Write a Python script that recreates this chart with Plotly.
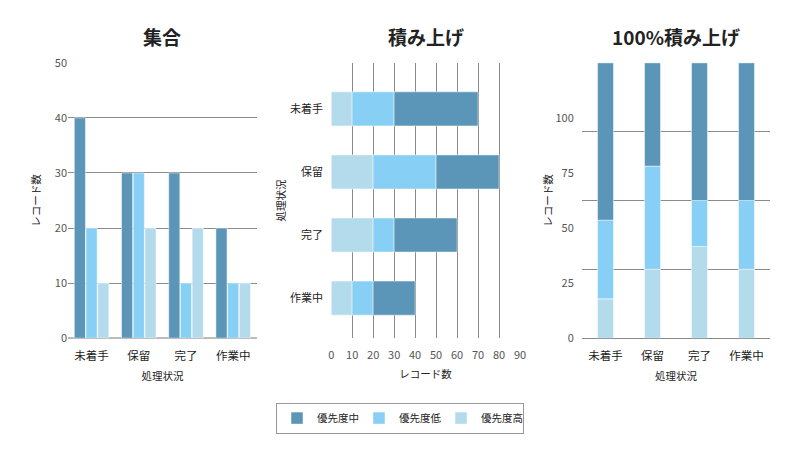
import plotly.graph_objects as go

categories = ["未着手", "保留", "完了", "作業中"]
series_names = ["優先度中", "優先度低", "優先度高"]
mid_vals = [40, 30, 30, 20]
low_vals = [20, 30, 10, 10]
high_vals = [10, 20, 20, 10]
colors = {"優先度中": "#5b95b7", "優先度低": "#88cff5", "優先度高": "#b4dbeb"}
titles = ["集合", "積み上げ", "100%積み上げ"]
pct_tick_vals = [0, 25, 50, 75, 100]

values = {"優先度中": mid_vals, "優先度低": low_vals, "優先度高": high_vals}
totals = [sum(t) for t in zip(mid_vals, low_vals, high_vals)]

FONT = "Noto Sans CJK JP, Noto Sans, sans-serif"
GRID = "#8a8a8a"
line = dict(width=0.7, color="rgba(255,255,255,0.7)")

fig = go.Figure()

# 1) grouped
for name in series_names:
    fig.add_trace(go.Bar(
        x=categories, y=values[name], name=name, marker=dict(color=colors[name], line=line),
        offsetgroup=name, legendgroup=name, xaxis="x", yaxis="y"))

# 2) stacked horizontal (高 -> 低 -> 中)
stack_order = ["優先度高", "優先度低", "優先度中"]
base = [0] * len(categories)
for name in stack_order:
    fig.add_trace(go.Bar(
        y=categories, x=values[name], base=base[:], orientation="h", name=name,
        marker=dict(color=colors[name], line=line), offsetgroup="stack_h", width=0.54,
        legendgroup=name, showlegend=False, xaxis="x2", yaxis="y2"))
    base = [b + v for b, v in zip(base, values[name])]

# 3) 100% stacked
base = [0] * len(categories)
for name in stack_order:
    pct = [v / t * 100 for v, t in zip(values[name], totals)]
    fig.add_trace(go.Bar(
        x=categories, y=pct, base=base[:], name=name,
        marker=dict(color=colors[name], line=line), offsetgroup="stack_p", width=0.34,
        legendgroup=name, showlegend=False, xaxis="x3", yaxis="y3"))
    base = [b + p for b, p in zip(base, pct)]

ydom = [0.268, 0.864]
tickfont = dict(family=FONT, size=11, color="#555")
catfont = dict(family=FONT, size=11.5, color="#222")
titlefont = dict(family=FONT, size=10.5, color="#222")
hidden_ticks = dict(ticks="outside", tickcolor="rgba(0,0,0,0)")

fig.update_layout(
    width=800, height=462,
    margin=dict(l=0, r=0, t=0, b=0),
    paper_bgcolor="white", plot_bgcolor="white",
    font=dict(family=FONT),
    barmode="group", bargap=0.255, bargroupgap=0.05,
    xaxis=dict(domain=[0.085, 0.321], anchor="y", tickfont=catfont, showline=False, automargin=False,
               ticklen=7, **hidden_ticks,
               title=dict(text="処理状況", font=titlefont, standoff=10), showgrid=False),
    yaxis=dict(domain=ydom, anchor="x", range=[0, 50], dtick=10, tickfont=tickfont, automargin=False,
               showgrid=True, gridcolor=GRID, gridwidth=1, zeroline=True, zerolinecolor="#bbbbbb",
               zerolinewidth=2, title=dict(text="レコード数", font=titlefont, standoff=12)),
    xaxis2=dict(domain=[0.414, 0.65], anchor="y2", range=[0, 90], dtick=10, tickfont=tickfont,
                showgrid=True, gridcolor=GRID, gridwidth=1, zeroline=False, automargin=False,
                ticklen=7, **hidden_ticks,
                title=dict(text="レコード数", font=titlefont, standoff=9)),
    yaxis2=dict(domain=ydom, anchor="x2", range=[3.635, -0.73], tickfont=dict(family=FONT, size=11, color="#222"),
                automargin=False, ticklen=5, **hidden_ticks,
                showgrid=False, title=dict(text="処理状況", font=titlefont, standoff=2)),
    xaxis3=dict(domain=[0.7275, 0.9625], anchor="y3", tickfont=catfont, showgrid=False, automargin=False,
                ticklen=7, **hidden_ticks,
                title=dict(text="処理状況", font=titlefont, standoff=10)),
    yaxis3=dict(domain=ydom, anchor="x3", range=[0, 100], dtick=25, showticklabels=False,
                showgrid=True, gridcolor=GRID, gridwidth=1, zeroline=True, automargin=False,
                zerolinecolor=GRID, zerolinewidth=1),
    yaxis4=dict(overlaying="y3", anchor="x3", side="left", range=[0, 125], automargin=False,
                tickvals=pct_tick_vals, tickfont=tickfont, showgrid=False, zeroline=False,
                ticklen=5, **hidden_ticks,
                title=dict(text="レコード数", font=titlefont, standoff=0)),
    legend=dict(orientation="h", x=0.5, xanchor="center", y=0.095, yanchor="middle",
                bordercolor="#999", borderwidth=1, font=dict(family=FONT, size=10.5, color="#222"),
                entrywidth=37, entrywidthmode="pixels", traceorder="normal"),
)

# invisible helper trace so the label axis renders
fig.add_trace(go.Scatter(x=[categories[0]], y=[None], xaxis="x3", yaxis="y4",
                         showlegend=False, hoverinfo="skip", mode="markers"))

centers = [(0.085 + 0.321) / 2, (0.414 + 0.65) / 2, (0.7275 + 0.9625) / 2]
for t, cx in zip(titles, centers):
    fig.add_annotation(text=f"<b>{t}</b>", x=cx, y=0.922, xref="paper", yref="paper",
                       xanchor="center", yanchor="middle",
                       showarrow=False, font=dict(family=FONT, size=19, color="#222"))

fig.write_html("out.html", config={"displayModeBar": False},
               post_script="document.body.style.margin='0';")
